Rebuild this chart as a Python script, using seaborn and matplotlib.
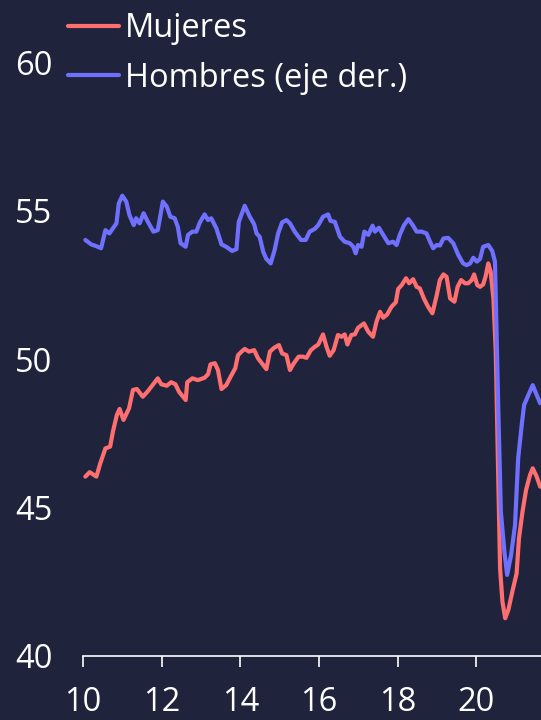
import matplotlib
matplotlib.use("Agg")
import matplotlib.pyplot as plt
import seaborn as sns
import pandas as pd

# data (x = two digit year, y = participation %)
# Mujeres -> left axis
t_mujeres = [10.06, 10.17, 10.25, 10.34, 10.44, 10.57, 10.69, 10.76, 10.86, 10.93,
             11.03, 11.17, 11.27, 11.37, 11.52, 11.65, 11.79, 11.90, 11.99, 12.13,
             12.24, 12.35, 12.44, 12.61, 12.65, 12.78, 12.92, 13.09, 13.18, 13.24,
             13.35, 13.43, 13.52, 13.64, 13.75, 13.87, 13.94, 14.03, 14.11, 14.22,
             14.35, 14.45, 14.58, 14.66, 14.75, 14.86, 14.98, 15.06, 15.17, 15.26,
             15.36, 15.48, 15.59, 15.68, 15.79, 15.89, 15.98, 16.10, 16.19, 16.27,
             16.37, 16.48, 16.57, 16.65, 16.72, 16.82, 16.91, 16.99, 17.14, 17.25,
             17.37, 17.46, 17.55, 17.63, 17.73, 17.84, 17.95, 18.01, 18.10, 18.21,
             18.29, 18.39, 18.48, 18.56, 18.67, 18.77, 18.88, 18.99, 19.07, 19.16,
             19.24, 19.33, 19.44, 19.52, 19.61, 19.71, 19.79, 19.88, 19.94, 20.02,
             20.09, 20.17, 20.23, 20.30, 20.36, 20.43, 20.49, 20.54, 20.60, 20.66,
             20.73, 20.81, 20.91, 21.02, 21.08, 21.17, 21.26, 21.36, 21.43, 21.53,
             21.62]
mujeres = [46.04, 46.19, 46.12, 46.04, 46.49, 46.99, 47.05, 47.55, 48.11, 48.32,
           47.95, 48.34, 48.96, 48.99, 48.73, 48.92, 49.16, 49.35, 49.15, 49.10,
           49.22, 49.15, 48.90, 48.62, 49.22, 49.35, 49.29, 49.37, 49.49, 49.82,
           49.86, 49.63, 48.99, 49.12, 49.40, 49.69, 50.13, 50.25, 50.34, 50.25,
           50.30, 50.02, 49.80, 49.66, 50.25, 50.38, 50.47, 50.19, 50.13, 49.63,
           49.86, 50.08, 50.08, 50.04, 50.30, 50.41, 50.49, 50.83, 50.41, 50.11,
           50.30, 50.81, 50.75, 50.83, 50.49, 50.81, 50.83, 51.05, 51.20, 50.92,
           50.75, 51.26, 51.59, 51.39, 51.50, 51.76, 51.91, 52.36, 52.49, 52.72,
           52.55, 52.69, 52.43, 52.38, 52.02, 51.76, 51.54, 52.15, 52.66, 52.85,
           52.77, 52.04, 51.93, 52.43, 52.66, 52.55, 52.55, 52.66, 52.85, 52.49,
           52.43, 52.51, 52.77, 53.22, 52.94, 52.04, 50.25, 46.88, 42.95, 41.83,
           41.27, 41.55, 42.16, 42.78, 43.96, 44.86, 45.59, 46.09, 46.32, 46.04,
           45.70]

# Hombres -> right axis (its scale is cut off in the reference, so same grid as left)
t_hombres = [10.06, 10.21, 10.34, 10.46, 10.57, 10.67, 10.85, 10.91, 11.00, 11.10,
             11.18, 11.29, 11.35, 11.44, 11.54, 11.65, 11.79, 11.90, 12.03, 12.13,
             12.22, 12.33, 12.41, 12.48, 12.61, 12.67, 12.78, 12.88, 12.97, 13.09,
             13.18, 13.26, 13.39, 13.52, 13.64, 13.79, 13.90, 13.96, 14.11, 14.24,
             14.35, 14.41, 14.49, 14.58, 14.66, 14.77, 14.87, 14.96, 15.06, 15.17,
             15.26, 15.38, 15.54, 15.66, 15.76, 15.89, 15.98, 16.10, 16.23, 16.29,
             16.40, 16.53, 16.65, 16.78, 16.87, 16.93, 16.99, 17.08, 17.15, 17.25,
             17.36, 17.42, 17.52, 17.63, 17.76, 17.88, 17.97, 18.05, 18.16, 18.27,
             18.38, 18.48, 18.61, 18.73, 18.82, 18.90, 18.99, 19.07, 19.16, 19.28,
             19.41, 19.54, 19.66, 19.75, 19.84, 19.92, 20.01, 20.09, 20.17, 20.30,
             20.40, 20.47, 20.56, 20.62, 20.71, 20.78, 20.88, 20.98, 21.06, 21.15,
             21.21, 21.32, 21.43, 21.53, 21.62]
hombres = [54.01, 53.86, 53.80, 53.73, 54.34, 54.23, 54.57, 55.24, 55.50, 55.30,
           54.85, 54.51, 54.74, 54.57, 54.91, 54.62, 54.29, 54.34, 55.30, 55.13,
           54.79, 54.74, 54.45, 53.90, 53.78, 54.18, 54.29, 54.29, 54.60, 54.87,
           54.68, 54.74, 54.40, 53.86, 53.78, 53.64, 53.70, 54.62, 55.16, 54.79,
           54.54, 54.23, 54.12, 53.61, 53.37, 53.22, 53.67, 54.23, 54.60, 54.68,
           54.57, 54.29, 54.01, 54.01, 54.29, 54.38, 54.51, 54.79, 54.87, 54.65,
           54.62, 54.12, 53.95, 53.90, 53.78, 53.56, 53.84, 53.78, 54.29, 54.18,
           54.49, 54.29, 54.42, 54.18, 53.90, 53.95, 53.84, 54.18, 54.51, 54.71,
           54.51, 54.29, 54.29, 54.23, 53.95, 53.73, 53.84, 53.82, 54.06, 54.08,
           53.90, 53.50, 53.22, 53.16, 53.22, 53.41, 53.28, 53.37, 53.78, 53.84,
           53.64, 53.28, 48.01, 44.86, 43.51, 42.73, 43.40, 44.41, 46.66, 47.78,
           48.45, 48.79, 49.12, 48.79, 48.51]

x_ticks = [10, 12, 14, 16, 18, 20]
y_ticks = [40, 45, 50, 55, 60]

df_m = pd.DataFrame({"t": t_mujeres, "v": mujeres})
df_h = pd.DataFrame({"t": t_hombres, "v": hombres})

# colours
bg = "#1f243c"
red = "#ff6f6f"
blue = "#7070ff"
fg = "#ffffff"

sns.set_style("dark", {"axes.facecolor": bg, "figure.facecolor": bg})
plt.rcParams["font.family"] = ["Open Sans", "DejaVu Sans"]

fig = plt.figure(figsize=(5.41, 7.2), dpi=100)
ax = fig.add_axes([0.1534, 0.0889, 0.8466, 0.9111])
ax2 = ax.twinx()

sns.lineplot(data=df_m, x="t", y="v", ax=ax, color=red, linewidth=3.0, label="Mujeres", sort=False)
sns.lineplot(data=df_h, x="t", y="v", ax=ax2, color=blue, linewidth=3.0, label="Hombres (eje der.)", sort=False)

for a in (ax, ax2):
    a.set_xlim(10, 21.64)
    a.set_ylim(40, 62.09)
    a.set_xlabel("")
    a.set_ylabel("")
    a.grid(False)
    for s in a.spines.values():
        s.set_visible(False)

ax2.patch.set_visible(False)
ax2.set_yticks([])

ax.spines["bottom"].set_visible(True)
ax.spines["bottom"].set_color(fg)
ax.spines["bottom"].set_linewidth(1.2)

ax.set_xticks(x_ticks)
ax.set_xticklabels([str(t) for t in x_ticks])
ax.set_yticks(y_ticks)
ax.tick_params(axis="x", colors=fg, labelsize=23.5, length=8, width=1.2, direction="out", pad=13.5, bottom=True)
ax.tick_params(axis="y", colors=fg, labelsize=23.5, length=0, pad=22)

# legend (both axes)
h1, l1 = ax.get_legend_handles_labels()
h2, l2 = ax2.get_legend_handles_labels()
if ax2.get_legend():
    ax2.get_legend().remove()
leg = ax.legend(h1 + h2, l1 + l2, loc="upper left", bbox_to_anchor=(0.114, 0.992),
                bbox_transform=fig.transFigure, frameon=False, fontsize=23.5,
                handlelength=1.55, handletextpad=0.2, labelspacing=0.5,
                borderpad=0.2, borderaxespad=0)
for txt in leg.get_texts():
    txt.set_color(fg)

fig.savefig("out.png", dpi=100, facecolor=bg)
